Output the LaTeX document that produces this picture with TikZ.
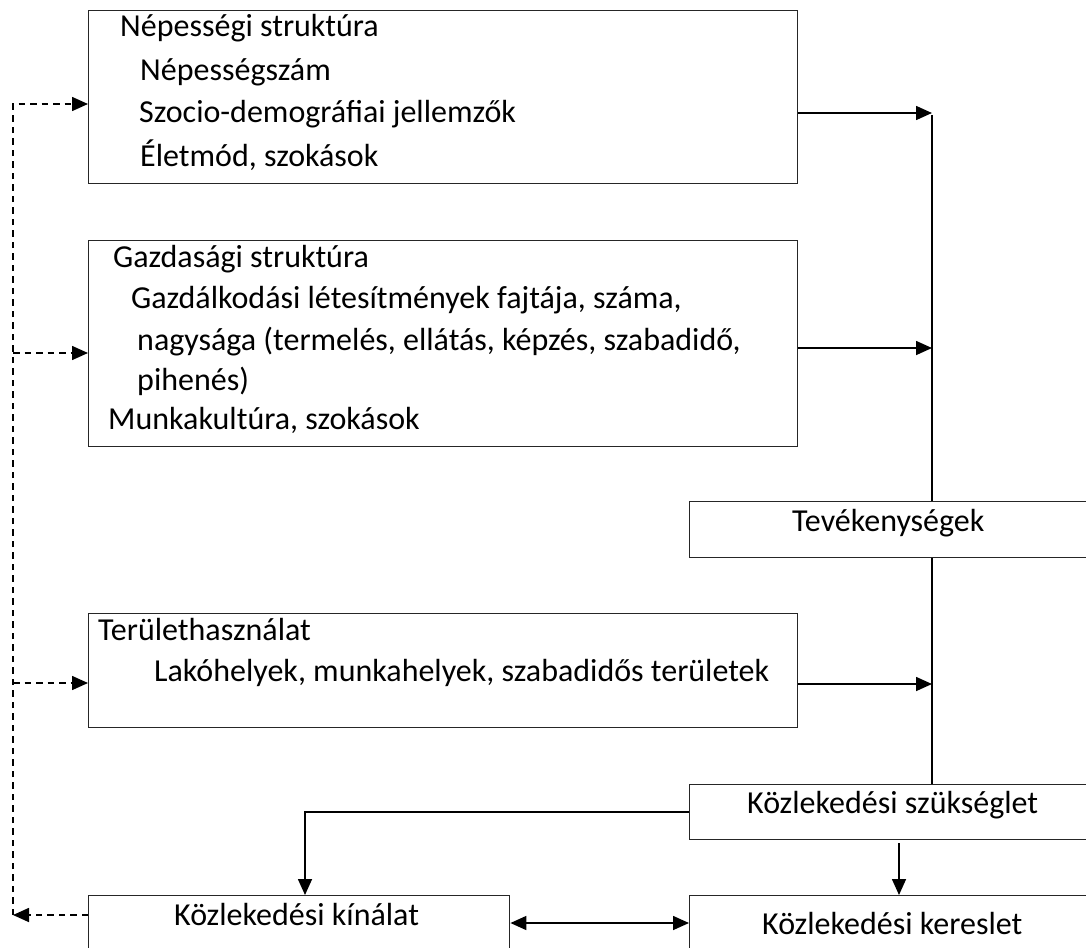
\documentclass[tikz,border=0pt]{standalone}
\usepackage{fontspec}
\setmainfont{Carlito}
\usetikzlibrary{arrows.meta}
\begin{document}
\begin{tikzpicture}[x=1pt,y=-1pt,
  box/.style={draw=black!85, line width=1.4pt, rectangle, inner sep=0pt, anchor=north west},
  lbl/.style={anchor=base west, inner sep=0pt, font=\fontsize{32}{38}\selectfont},
  conn/.style={line width=1.6pt, black},
  tip/.style={-{Triangle[length=16pt,width=14pt]}},
  arr/.style={conn, tip},
  darr/.style={conn, {Triangle[length=16pt,width=14pt]}-{Triangle[length=16pt,width=14pt]}},
  fbk/.style={conn, dash pattern=on 6.5pt off 5pt, tip}
]
\useasboundingbox (0,0) rectangle (1086,947);

% boxes
\node[box, minimum width=709pt, minimum height=173pt] (pop)  at (88,10)  {};
\node[box, minimum width=709pt, minimum height=206pt] (eco)  at (88,240) {};
\node[box, minimum width=709pt, minimum height=114pt] (land) at (88,613) {};
\node[box, minimum width=406pt, minimum height=56pt]  (tev)  at (689,501) {};
\node[box, minimum width=406pt, minimum height=55pt]  (szuk) at (689,784) {};
\node[box, minimum width=406pt, minimum height=70pt]  (ker)  at (689,895) {};
\node[box, minimum width=421pt, minimum height=70pt]  (kin)  at (88,895)  {};

% texts
\node[lbl] (pop1) at (120,37)  {Népességi struktúra};
\node[lbl] (pop2) at (140,81)  {Népességszám};
\node[lbl] (pop3) at (139,122) {Szocio-demográfiai jellemzők};
\node[lbl] (pop4) at (140,166) {Életmód, szokások};

\node[lbl] (eco1) at (113,267) {Gazdasági struktúra};
\node[lbl] (eco2) at (131,308) {Gazdálkodási létesítmények fajtája, száma,};
\node[lbl] (eco3) at (137,350) {nagysága (termelés, ellátás, képzés, szabadidő,};
\node[lbl] (eco4) at (137,390) {pihenés)};
\node[lbl] (eco5) at (108,429) {Munkakultúra, szokások};

\node[lbl] (land1) at (98,640)  {Területhasználat};
\node[lbl] (land2) at (154,681) {Lakóhelyek, munkahelyek, szabadidős területek};

\node[lbl] (tevt)  at (792,531) {Tevékenységek};
\node[lbl] (szukt) at (747,813) {Közlekedési szükséglet};
\node[lbl] (kint)  at (174,925) {Közlekedési kínálat};
\node[lbl] (kert)  at (762,934) {Közlekedési kereslet};

% reference levels
\coordinate (bus) at (932,115);
\coordinate (ya) at (0,113);
\coordinate (yb) at (0,348);
\coordinate (yc) at (0,684);
\coordinate (ye) at (0,923);
\coordinate (xk) at (305,0);
\coordinate (xs) at (899,0);
\coordinate (fb) at (13,104);
\coordinate (fe) at (0,353);
\coordinate (fl) at (0,683);
\coordinate (yf) at (0,915);

% structures feeding the activities
\draw[arr] (pop.east |- ya) -- (bus |- ya);
\draw[arr] (eco.east |- yb) -- (bus |- yb);
\draw[arr] (land.east |- yc) -- (bus |- yc);
\draw[conn] (bus) -- (bus |- tev.north);
\draw[conn] (bus |- tev.south) -- (bus |- szuk.north);

% need, supply and demand
\draw[arr] (szuk.west) -| (kin.north -| xk);
\draw[arr, shorten <=3pt] (szuk.south -| xs) -- (ker.north -| xs);
\draw[darr] (kin.east |- ye) -- (ker.west |- ye);

% feedback from supply
\draw[fbk] (kin.west |- yf) -- (fb |- yf);
\draw[fbk] (fb |- yf) -- (fb) -- (pop.west |- fb);
\draw[fbk] (fb |- fe) -- (eco.west |- fe);
\draw[fbk] (fb |- fl) -- (land.west |- fl);
\end{tikzpicture}
\end{document}
